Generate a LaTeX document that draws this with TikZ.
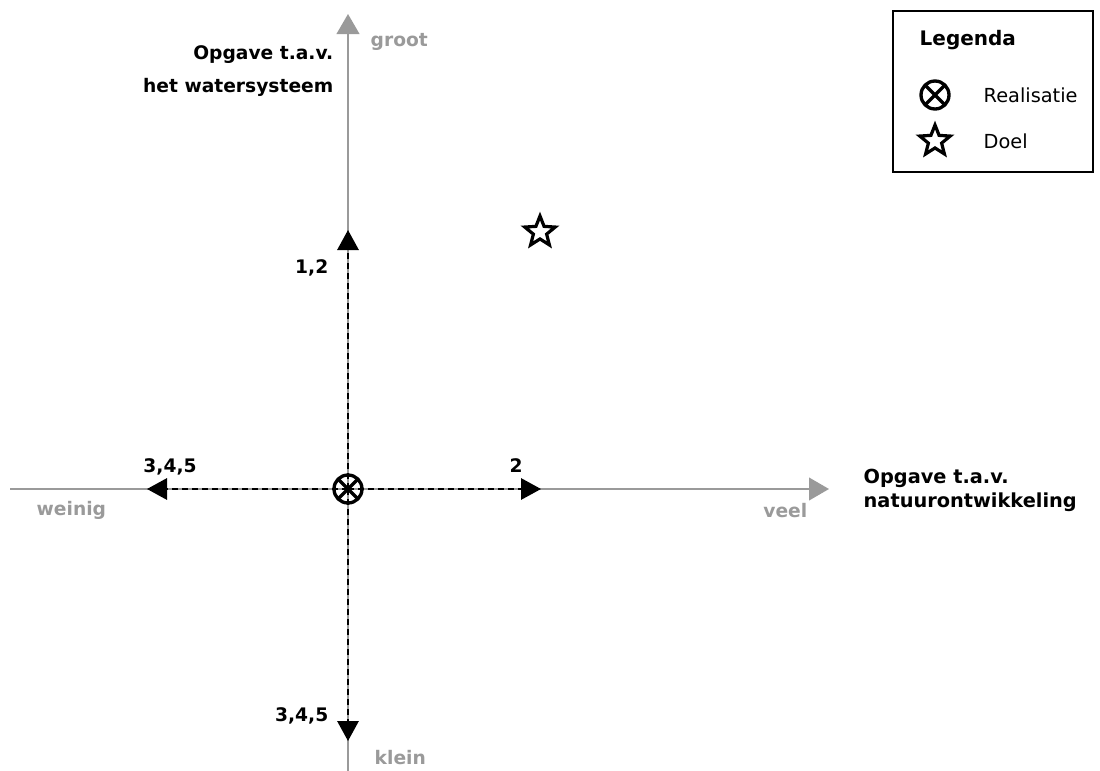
\documentclass[tikz,border=0pt]{standalone}
\usepackage{fontspec}
\setmainfont{DejaVu Sans}
\usetikzlibrary{arrows.meta,shapes.geometric,calc}
\definecolor{axisgray}{HTML}{9A9A9A}
\tikzset{
  axis/.style={draw=axisgray, line width=1.5pt, -{Triangle[length=15pt,width=17pt]}},
  dasharrow/.style={draw=black, line width=1.5pt, dash pattern=on 4.5pt off 3pt, -{Triangle[length=15pt,width=16pt]}},
  graylbl/.style={text=axisgray, font=\fontsize{14}{17}\selectfont\bfseries},
  lbl/.style={text=black, font=\fontsize{14}{17}\selectfont\bfseries},
  leglbl/.style={text=black, font=\fontsize{14.5}{17}\selectfont, anchor=west},
  sterstyle/.style={star, star points=5, star point ratio=2.3, draw=black, line width=2.4pt, minimum size=24pt, inner sep=0pt},
}
\newcommand{\realisatie}[1]{%
  \draw[line width=2.5pt] (#1) circle (10.5pt);
  \draw[line width=2.5pt] ($(#1)+(-7.2pt,7.2pt)$) -- ($(#1)+(7.2pt,-7.2pt)$);
  \draw[line width=2.5pt] ($(#1)+(-7.2pt,-7.2pt)$) -- ($(#1)+(7.2pt,7.2pt)$);
}
\begin{document}
\begin{tikzpicture}[x=0.75pt,y=-0.75pt]
\useasboundingbox (0,0) rectangle (1100,771);
% coordinates
\coordinate (o) at (348,489);
\coordinate (ytop) at (348,14);
\coordinate (ybot) at (348,771);
\coordinate (xl) at (10,489);
\coordinate (xr) at (829,489);
\coordinate (up) at (348,230);
\coordinate (lf) at (147,489);
\coordinate (rt) at (541,489);
\coordinate (dn) at (348,741);
% axes
\draw[axis] (ybot) -- (ytop);
\draw[axis] (xl) -- (xr);
% dashed arrows
\draw[dasharrow] (o) -- (up);
\draw[dasharrow] (o) -- (lf);
\draw[dasharrow] (o) -- (rt);
\draw[dasharrow] (o) -- (dn);
% realisatie marker
\realisatie{o}
% doel star
\node[sterstyle] (ster) at (540,232) {};
% axis labels
\node[graylbl, anchor=west] (groot) at (366,42) {groot};
\node[graylbl, anchor=west] (klein) at (370,758) {klein};
\node[graylbl, anchor=west] (weinig) at (32,510) {weinig};
\node[graylbl, anchor=east] (veel) at (812,511) {veel};
\node[lbl, font=\fontsize{14}{25}\selectfont\bfseries, anchor=east, align=right] (opgw) at (338,71) {Opgave t.a.v.\\het watersysteem};
\node[lbl, font=\fontsize{14.5}{18}\selectfont\bfseries, anchor=west, align=left] (opgn) at (859,490) {Opgave t.a.v.\\natuurontwikkeling};
% arrow labels
\node[lbl, anchor=east] (l12) at (333,268) {1,2};
\node[lbl] (l345a) at (170,467) {3,4,5};
\node[lbl] (l2) at (516,466) {2};
\node[lbl, anchor=east] (l345b) at (333,716) {3,4,5};
% legend
\node[draw=black, line width=1.5pt, minimum width=150pt, minimum height=121pt, anchor=north west, inner sep=0pt] (leg) at (892,10) {};
\node[lbl, font=\fontsize{15}{18}\selectfont\bfseries, anchor=west] (legt) at (915,40) {Legenda};
\coordinate (legr) at (935,95);
\realisatie{legr}
\node[leglbl] (lr) at (979,95) {Realisatie};
\node[sterstyle] (legs) at (935,141) {};
\node[leglbl] (ld) at (979,141) {Doel};
\end{tikzpicture}
\end{document}
